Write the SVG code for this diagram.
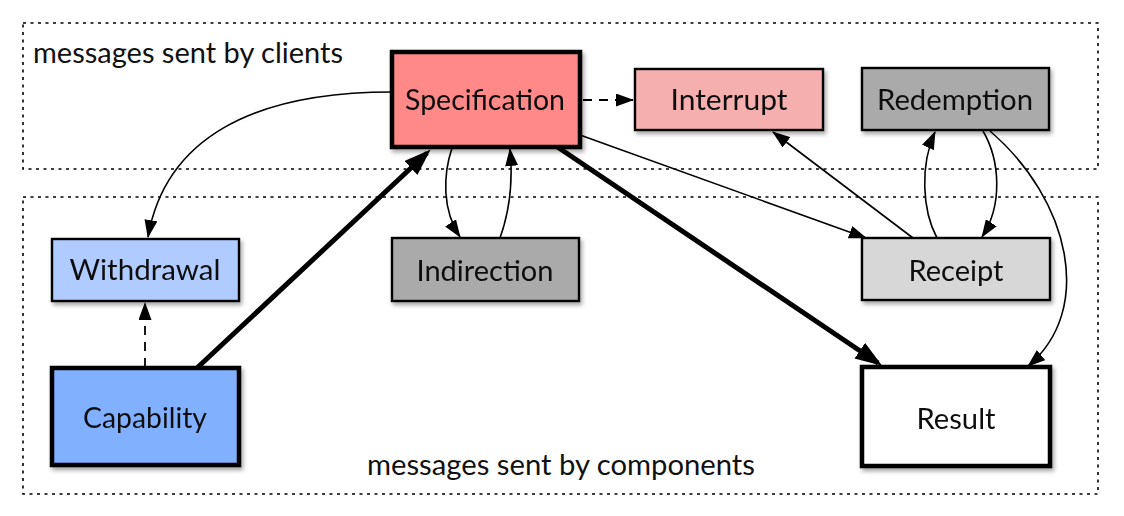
<svg xmlns="http://www.w3.org/2000/svg" width="1124" height="516" viewBox="0 0 1124 516">
<style>
.region{fill:none;stroke:#000;stroke-width:1.6;stroke-dasharray:3 4.5}
.box{stroke:#000;stroke-width:2.4}
.bold{stroke-width:4.5}
.lbl{font-family:Lato,"Open Sans","Liberation Sans",sans-serif;font-size:29px;fill:#111;text-anchor:middle}
.cap{font-family:Lato,"Open Sans","Liberation Sans",sans-serif;font-size:29px;fill:#111}
.thin{fill:none;stroke:#000;stroke-width:1.6;marker-end:url(#ah)}
.dash{fill:none;stroke:#000;stroke-width:1.8;stroke-dasharray:9 7;marker-end:url(#ah)}
.thick{fill:none;stroke:#000;stroke-width:5;marker-end:url(#ahb)}
</style>
<defs>
<marker id="ah" viewBox="0 0 18 13" refX="17" refY="6.5" markerWidth="18" markerHeight="13" markerUnits="userSpaceOnUse" orient="auto"><path d="M0,0 L18,6.5 L0,13 z" fill="#000"/></marker>
<marker id="ahb" viewBox="0 0 27 19" refX="22" refY="9.5" markerWidth="27" markerHeight="19" markerUnits="userSpaceOnUse" orient="auto"><path d="M0,0 L27,9.5 L0,19 z" fill="#000"/></marker>
<filter id="sh" x="-10%" y="-10%" width="130%" height="140%"><feDropShadow dx="2" dy="3" stdDeviation="2" flood-color="#000" flood-opacity="0.35"/></filter>
</defs>

<g id="regions">
<rect class="region" x="23" y="23" width="1075" height="146"/>
<rect class="region" x="23" y="197" width="1075" height="297"/>
<text class="cap" x="33" y="63" textLength="310" lengthAdjust="spacingAndGlyphs">messages sent by clients</text>
<text class="cap" x="367" y="475" textLength="388" lengthAdjust="spacingAndGlyphs">messages sent by components</text>
</g>

<g id="connectors">
<path class="thin" d="M392,92 C250,92 165,140 148,237"/>
<path class="dash" d="M583,100 L633,100"/>
<path class="dash" d="M145,367 L145,303"/>
<path class="thick" d="M197,368 L427,153"/>
<path class="thick" d="M556,146 L878,363"/>
<path class="thin" d="M452,148 C443,175 442,210 460,237"/>
<path class="thin" d="M500,238 C510,210 513,180 510,149"/>
<path class="thin" d="M580,135 L866,238"/>
<path class="thin" d="M913,238 L773,132"/>
<path class="thin" d="M937,238 C922,210 920,165 935,132"/>
<path class="thin" d="M983,131 C1000,160 1003,205 982,237"/>
<path class="thin" d="M990,131 C1070,200 1095,310 1028,366"/>
</g>

<g id="specification" filter="url(#sh)">
<rect class="box bold" x="392" y="52" width="188" height="95" fill="#FF8888"/>
<text class="lbl" x="485" y="110" textLength="160" lengthAdjust="spacingAndGlyphs">Specification</text>
</g>
<g id="interrupt" filter="url(#sh)">
<rect class="box" x="635" y="69" width="188" height="61" fill="#F5AFAF"/>
<text class="lbl" x="729" y="110" textLength="117" lengthAdjust="spacingAndGlyphs">Interrupt</text>
</g>
<g id="redemption" filter="url(#sh)">
<rect class="box" x="862" y="68" width="187" height="62" fill="#AAAAAA"/>
<text class="lbl" x="955" y="110" textLength="156" lengthAdjust="spacingAndGlyphs">Redemption</text>
</g>
<g id="withdrawal" filter="url(#sh)">
<rect class="box" x="52" y="239" width="187" height="62" fill="#B0CBFF"/>
<text class="lbl" x="145" y="280" textLength="151" lengthAdjust="spacingAndGlyphs">Withdrawal</text>
</g>
<g id="indirection" filter="url(#sh)">
<rect class="box" x="392" y="238" width="187" height="63" fill="#AAAAAA"/>
<text class="lbl" x="485" y="281" textLength="137" lengthAdjust="spacingAndGlyphs">Indirection</text>
</g>
<g id="receipt" filter="url(#sh)">
<rect class="box" x="862" y="238" width="188" height="62" fill="#D7D7D7"/>
<text class="lbl" x="956" y="281" textLength="95" lengthAdjust="spacingAndGlyphs">Receipt</text>
</g>
<g id="capability" filter="url(#sh)">
<rect class="box bold" x="52" y="368" width="187" height="97" fill="#80B0FF"/>
<text class="lbl" x="145" y="428" textLength="124" lengthAdjust="spacingAndGlyphs">Capability</text>
</g>
<g id="result" filter="url(#sh)">
<rect class="box bold" x="862" y="367" width="188" height="99" fill="#FFFFFF"/>
<text class="lbl" x="956" y="429" textLength="79" lengthAdjust="spacingAndGlyphs">Result</text>
</g>
</svg>
